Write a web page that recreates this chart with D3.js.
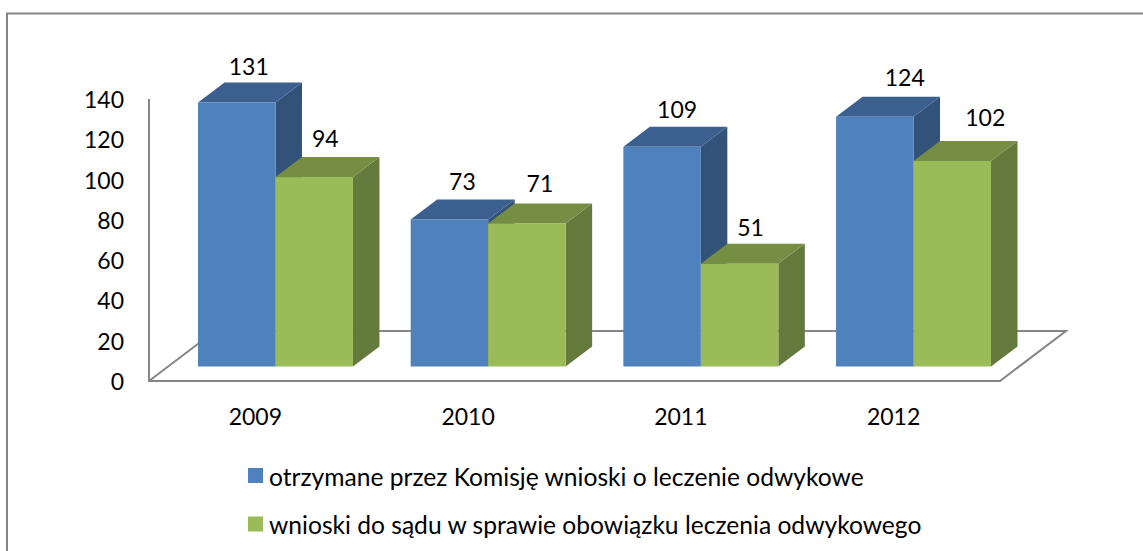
<!DOCTYPE html>
<html><head><meta charset="utf-8">
<script src="https://cdn.jsdelivr.net/npm/d3@7"></script>
<style>html,body{margin:0;padding:0;background:#fff}svg{display:block}text{font-family:Lato,"Open Sans",sans-serif;fill:#000}</style>
</head><body><svg id="c" width="1143" height="551"></svg>
<script>
const years = ["2009","2010","2011","2012"];
const applications = [131,73,109,124];
const courtRequests = [94,71,51,102];
const yTicks = [0,20,40,60,80,100,120,140];
const seriesNames = ["otrzymane przez Komisję wnioski o leczenie odwykowe","wnioski do sądu w sprawie obowiązku leczenia odwykowego"];
const seriesValues = [applications, courtRequests];
const palette = [
  {front:"#4f81bd",top:"#3b5f8e",side:"#325279"},
  {front:"#9bbb59",top:"#768e44",side:"#647a3c"}
];
// hand-placed data label offsets from each bar's front-top centre
const labelDX = [[12,13,15,30],[11,13,11,33]];
const labelDY = [[-37,-38,-38,-40],[-39.5,-40,-37,-43.5]];
const depthX = 26.5, depthY = 20, axisGray = "#868686";
const svg = d3.select("#c");

// frame
svg.append("path").attr("d","M7,551V13.5H1143").attr("fill","none").attr("stroke",axisGray).attr("stroke-width",2);

const y = d3.scaleLinear().domain([0,140]).range([366.5,84.4]);
const axisY = d3.scaleLinear().domain([0,140]).range([381,99]);
const floorX = d3.scaleBand().domain(years).range([149,1000]);
const groupX = d3.scaleBand().domain(years).range([198,991]).paddingInner(0.2714);
const barX = d3.scaleBand().domain([0,1]).range([0,groupX.bandwidth()]);

// walls and floor
const L=149,R=1000,B=axisY(0),backDX=66,backDY=50;
svg.append("path").attr("fill","none").attr("stroke",axisGray).attr("stroke-width",2)
  .attr("stroke-linejoin","miter")
  .attr("d",`M${L},${axisY(140)}V${B}H${R}L${R+backDX},${B-backDY}H${L+backDX}L${L},${B}`);

// y labels
svg.append("g").selectAll("text").data(yTicks).join("text")
  .attr("x",124).attr("y",d=>axisY(d)).attr("text-anchor","end").attr("dominant-baseline","central")
  .attr("font-size",23).text(d=>d);
// x labels
svg.append("g").selectAll("text").data(years).join("text")
  .attr("x",d=>floorX(d)+floorX.bandwidth()/2).attr("y",416).attr("text-anchor","middle").attr("dominant-baseline","central")
  .attr("font-size",23).text(d=>d);

// bars
years.forEach((yr,i)=>{
  seriesValues.forEach((vals,s)=>{
    const v=vals[i], x0=groupX(yr)+barX(s), w=barX.bandwidth(), t=y(v), b=y(0), c=palette[s];
    const g=svg.append("g");
    g.append("path").attr("fill",c.side)
      .attr("d",`M${x0+w},${t}l${depthX},${-depthY}V${b-depthY}L${x0+w},${b}Z`);
    g.append("path").attr("fill",c.top)
      .attr("d",`M${x0},${t}l${depthX},${-depthY}h${w}l${-depthX},${depthY}Z`);
    g.append("rect").attr("x",x0).attr("y",t).attr("width",w).attr("height",b-t).attr("fill",c.front);
  });
});
// data labels
years.forEach((yr,i)=>{
  seriesValues.forEach((vals,s)=>{
    svg.append("text").attr("x",groupX(yr)+barX(s)+barX.bandwidth()/2+labelDX[s][i]).attr("y",y(vals[i])+labelDY[s][i])
      .attr("text-anchor","middle").attr("dominant-baseline","central").attr("font-size",23).text(vals[i]);
  });
});
// legend
const legY = d3.scalePoint().domain([0,1]).range([476,524.5]);
seriesNames.forEach((n,i)=>{
  svg.append("rect").attr("x",248).attr("y",legY(i)-8).attr("width",15).attr("height",15).attr("fill",palette[i].front);
  svg.append("text").attr("x",269).attr("y",legY(i)).attr("dominant-baseline","central").attr("font-size",24.6).text(n);
});
</script></body></html>
